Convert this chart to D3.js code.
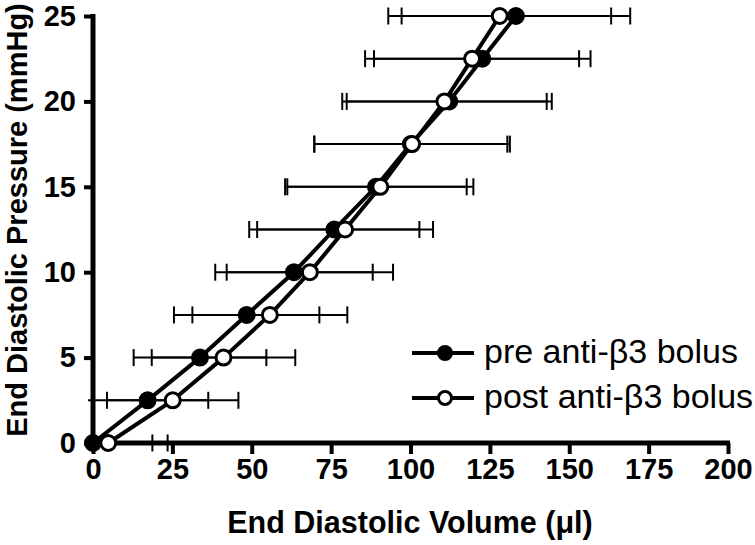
<!DOCTYPE html>
<html>
<head>
<meta charset="utf-8">
<script src="https://cdn.jsdelivr.net/npm/d3@7"></script>
<style>
  html, body { margin: 0; padding: 0; background: #fff; }
  svg { display: block; font-family: "Liberation Sans", Arial, Helvetica, sans-serif; }
</style>
</head>
<body>
<svg id="chart" width="755" height="545"></svg>
<script>
// ---- data ----
const pressure = [0, 2.5, 5, 7.5, 10, 12.5, 15, 17.5, 20, 22.5, 25];
const preVol   = [0, 17.2, 33.7, 48.4, 63.3, 76.0, 89.1, 100.1, 112.2, 122.6, 133.2];
const preErr   = [18.7, 19.1, 20.9, 22.9, 24.8, 26.8, 28.6, 30.4, 32.3, 34.1, 36.0];
const postVol  = [4.8, 25.1, 41.1, 55.7, 68.3, 79.4, 90.5, 100.5, 110.7, 119.4, 128.1];
const postErr  = [18.7, 20.7, 22.6, 24.4, 26.2, 27.7, 29.3, 30.8, 32.2, 33.7, 35.1];
const xTicks = [0, 25, 50, 75, 100, 125, 150, 175, 200];
const yTicks = [0, 5, 10, 15, 20, 25];
const seriesNames = ["pre anti-\u03B23 bolus", "post anti-\u03B23 bolus"];
const xTitle = "End Diastolic Volume (\u03BCl)";
const yTitle = "End Diastolic Pressure (mmHg)";

const svg = d3.select("#chart");
const x = d3.scaleLinear().domain([0, 200]).range([93, 728]);
const y = d3.scaleLinear().domain([0, 25]).range([443, 16]);

const series = [
  { name: seriesNames[0], vol: preVol, err: preErr, fill: "#000" },
  { name: seriesNames[1], vol: postVol, err: postErr, fill: "#fff" }
];

// clip for error bars (left side hidden beyond axis)
svg.append("defs").append("clipPath").attr("id", "clip")
  .append("rect").attr("x", x(0) - 5).attr("y", 0).attr("width", 755).attr("height", 545);

const capH = 8.5;
const plot = svg.append("g");

series.forEach(s => {
  const pts = pressure.map((p, i) => ({ p, v: s.vol[i], e: s.err[i] }));
  const eb = plot.append("g").attr("clip-path", "url(#clip)")
    .attr("stroke", "#000").attr("stroke-width", 2).attr("fill", "none");
  pts.forEach(d => {
    const yy = y(d.p), x1 = x(d.v - d.e), x2 = x(d.v + d.e);
    eb.append("line").attr("x1", x1).attr("x2", x2).attr("y1", yy).attr("y2", yy);
    eb.append("line").attr("x1", x1).attr("x2", x1).attr("y1", yy - capH).attr("y2", yy + capH);
    eb.append("line").attr("x1", x2).attr("x2", x2).attr("y1", yy - capH).attr("y2", yy + capH);
  });
});

series.forEach(s => {
  const pts = pressure.map((p, i) => ({ p, v: s.vol[i] }));
  plot.append("path").datum(pts)
    .attr("fill", "none").attr("stroke", "#000").attr("stroke-width", 4)
    .attr("stroke-linejoin", "round")
    .attr("d", d3.line().x(d => x(d.v)).y(d => y(d.p)));
});

// axes
const xAxis = svg.append("g").attr("transform", `translate(0,${y(0)})`)
  .call(d3.axisBottom(x).tickValues(xTicks).tickSize(11).tickPadding(4).tickSizeOuter(0));
const yAxis = svg.append("g").attr("transform", `translate(${x(0)},0)`)
  .call(d3.axisLeft(y).tickValues(yTicks).tickSize(9).tickPadding(8).tickSizeOuter(0));
[xAxis, yAxis].forEach(a => {
  a.select(".domain").attr("stroke", "#000").attr("stroke-width", 5);
  a.selectAll(".tick line").attr("stroke", "#000").attr("stroke-width", 4);
  a.selectAll(".tick text").attr("fill", "#000")
    .style("font-size", "29px").style("font-weight", "bold")
    .style("font-family", '"Liberation Sans", Arial, sans-serif');
});
xAxis.select(".domain").attr("d", `M${x(0) - 2.5},0H${x(200) + 2}`);
yAxis.select(".domain").attr("d", `M0,${y(0) + 2.5}V${y(25) - 2}`);

// markers on top
series.forEach(s => {
  plot.append("g").selectAll("circle")
    .data(pressure.map((p, i) => ({ p, v: s.vol[i] })))
    .join("circle")
    .attr("cx", d => x(d.v)).attr("cy", d => y(d.p))
    .attr("r", 7.5)
    .attr("fill", s.fill).attr("stroke", "#000").attr("stroke-width", 3);
});
plot.raise();

// titles
svg.append("text").attr("x", 410).attr("y", 533).attr("text-anchor", "middle")
  .style("font-size", "30.5px").style("font-weight", "bold").text(xTitle);
svg.append("text").attr("transform", "translate(27,220) rotate(-90)").attr("text-anchor", "middle")
  .style("font-size", "29px").style("font-weight", "bold").text(yTitle);

// legend
const lg = svg.append("g");
series.forEach((s, i) => {
  const ly = 353 + i * 45;
  lg.append("line").attr("x1", 412).attr("x2", 474).attr("y1", ly).attr("y2", ly)
    .attr("stroke", "#000").attr("stroke-width", 4);
  lg.append("circle").attr("cx", 445).attr("cy", ly).attr("r", 6.5)
    .attr("fill", s.fill).attr("stroke", "#000").attr("stroke-width", 3);
  lg.append("text").attr("x", 484).attr("y", ly + 10)
    .style("font-size", "34px").text(s.name);
});
</script>
</body>
</html>
